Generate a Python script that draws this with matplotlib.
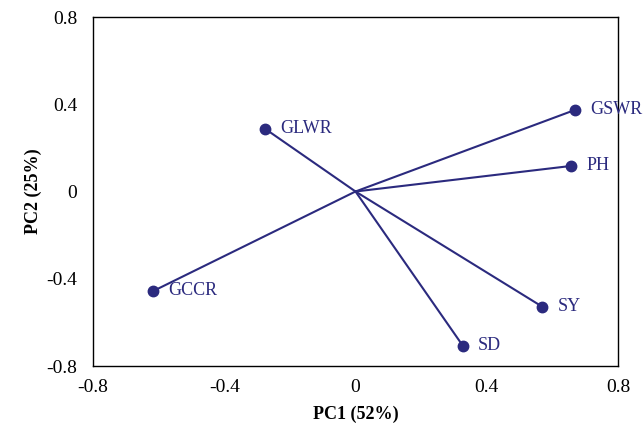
import matplotlib
matplotlib.use("Agg")
import matplotlib.pyplot as plt

names = ["GSWR", "PH", "GLWR", "GCCR", "SY", "SD"]
pc1 = [0.669, 0.656, -0.275, -0.616, 0.569, 0.327]
pc2 = [0.374, 0.117, 0.287, -0.456, -0.528, -0.707]
ticks = [-0.8, -0.4, 0, 0.4, 0.8]
tick_labels = ["-0.8", "-0.4", "0", "0.4", "0.8"]

color = "#2b2a7e"
plt.rcParams["font.family"] = ["Liberation Serif", "DejaVu Serif"]

fig = plt.figure(figsize=(6.44, 4.23), dpi=100)
ax = fig.add_axes([93/644, 1-366/423, 525/644, 349/423])

for n, x, y in zip(names, pc1, pc2):
    ax.plot([0, x], [0, y], color=color, lw=1.5, zorder=2)
    ax.plot([x], [y], "o", color=color, ms=7.5, zorder=3, clip_on=False)
    ax.annotate(n, (x, y), xytext=(11, 0), textcoords="offset points",
                color=color, fontsize=13, va="center", ha="left",
                annotation_clip=False)

ax.set_xlim(-0.8, 0.8)
ax.set_ylim(-0.8, 0.8)
ax.set_xticks(ticks)
ax.set_xticklabels(tick_labels)
ax.set_yticks(ticks)
ax.set_yticklabels(tick_labels)
ax.tick_params(length=0, labelsize=14, pad=9)
ax.tick_params(axis="y", pad=11.5)
for s in ax.spines.values():
    s.set_linewidth(1.0)
ax.set_xlabel("PC1 (52%)", fontsize=13, fontweight="bold", labelpad=7)
ax.set_ylabel("PC2 (25%)", fontsize=13, fontweight="bold", labelpad=3)

fig.savefig("out.png", dpi=100)
